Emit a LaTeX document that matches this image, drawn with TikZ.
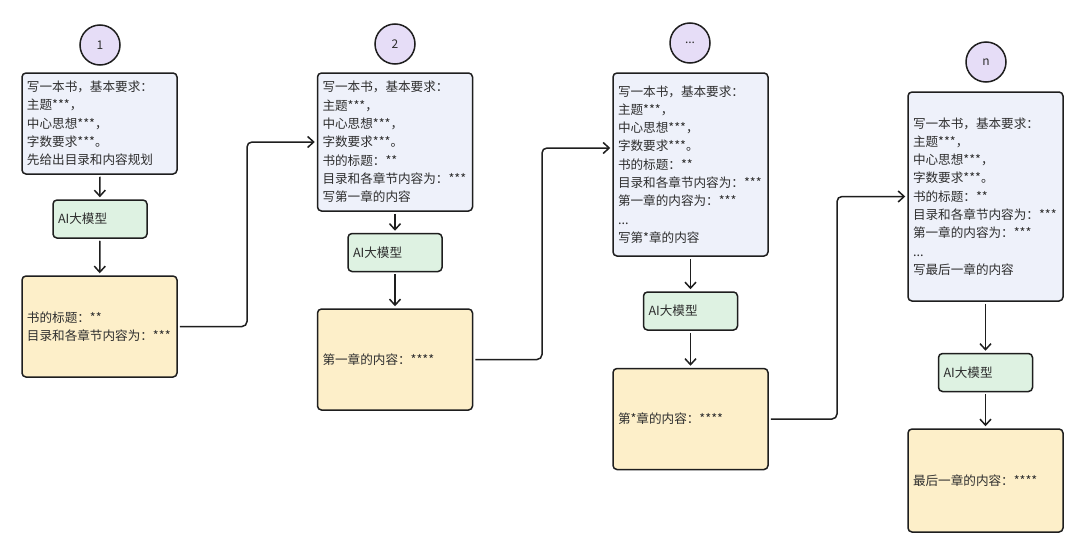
\documentclass[tikz,border=0pt]{standalone}
\usepackage{fontspec}
\setmainfont{Noto Sans CJK SC}
\usepackage{tikz}
\usetikzlibrary{positioning}
\usetikzlibrary{calc}
\usetikzlibrary{arrows.meta}
\definecolor{edge}{HTML}{1E1E1E}
\definecolor{ink}{HTML}{2E2E2E}
\definecolor{stepfill}{HTML}{E6DDF7}
\definecolor{queryfill}{HTML}{EEF1FA}
\definecolor{modelfill}{HTML}{DEF2E2}
\definecolor{answerfill}{HTML}{FDEFC9}
\tikzset{box/.style={draw=edge,line width=1.5pt,rounded corners=4pt,text=ink,font=\fontsize{12.6}{18.3}\selectfont,align=left,inner sep=5pt},
query/.style={box,fill=queryfill,text width=145pt},
model/.style={box,fill=modelfill,text width=84pt,minimum height=38pt},
answer/.style={box,fill=answerfill,text width=145pt,minimum height=101pt},
stepnum/.style={draw=edge,line width=1.5pt,circle,fill=stepfill,minimum size=40pt,inner sep=0pt,text=ink,font=\fontsize{12}{14}\selectfont},
flow/.style={draw=edge,line width=1.5pt,-{Straight Barb[length=6pt,width=11pt]},shorten <=2pt,shorten >=2pt},
link/.style={flow,rounded corners=5pt}}

\begin{document}
\begin{tikzpicture}[x=1pt,y=-1pt]
\useasboundingbox [fill=white] (0,0) rectangle (1080,541);

\node (s1) at (100,45) [stepnum] {1};
\node (q1) at (99.5,123.5) [query,minimum height=101pt] {写一本书，基本要求：\\主题***，\\中心思想***，\\字数要求***。\\先给出目录和内容规划};
\node (m1) at (100,219) [model] {AI大模型};
\node (r1) at (99.5,326.5) [answer] {书的标题：**\\目录和各章节内容为：***};

\node (s2) at (395,44) [stepnum] {2};
\node (q2) at (395,142) [query,minimum height=138pt] {写一本书，基本要求：\\主题***，\\中心思想***，\\字数要求***。\\书的标题：**\\目录和各章节内容为：***\\写第一章的内容};
\node (m2) at (395,252.5) [model] {AI大模型};
\node (r2) at (395,359.5) [answer] {第一章的内容：****};

\node (s3) at (690,43) [stepnum] {...};
\node (q3) at (690.5,164.5) [query,minimum height=183pt] {写一本书，基本要求：\\主题***，\\中心思想***，\\字数要求***。\\书的标题：**\\目录和各章节内容为：***\\第一章的内容为：***\\...\\写第*章的内容};
\node (m3) at (690.5,311) [model] {AI大模型};
\node (r3) at (690.5,419) [answer] {第*章的内容：****};

\node (s4) at (986,62) [stepnum] {n};
\node (q4) at (985.5,196.5) [query,minimum height=209pt] {写一本书，基本要求：\\主题***，\\中心思想***，\\字数要求***。\\书的标题：**\\目录和各章节内容为：***\\第一章的内容为：***\\...\\写最后一章的内容};
\node (m4) at (985.5,372.5) [model] {AI大模型};
\node (r4) at (985.5,480.5) [answer,minimum height=103pt] {最后一章的内容：****};

\foreach \i in {1,2,3,4} {
\draw [flow] (q\i) -- (m\i);
\draw [flow] (m\i) -- (r\i);
}

% answer of one step goes into the query of the next
\foreach \i/\j/\k/\dy in {1/2/247/0, 2/3/542/-16.5, 3/4/837/0} {
\coordinate (t\j) at ($(q\j.west)+(0,\dy)$);
\coordinate (k\j) at (\k,0);
\draw [link] (r\i.east) -| (k\j |- t\j) -- (t\j);
}

\end{tikzpicture}
\end{document}
